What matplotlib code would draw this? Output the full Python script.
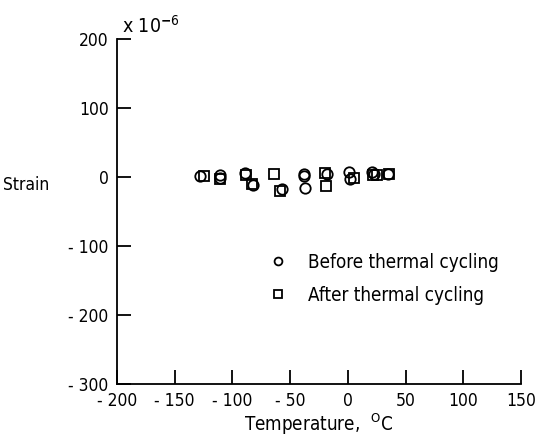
import matplotlib
matplotlib.use("Agg")
import matplotlib.pyplot as plt
from matplotlib import font_manager

# Condensed sans face for all text, with a fallback
names = {f.name for f in font_manager.fontManager.ttflist}
face = "Liberation Sans Narrow" if "Liberation Sans Narrow" in names else "DejaVu Sans"
plt.rcParams["font.family"] = [face, "DejaVu Sans"]
plt.rcParams["font.stretch"] = "condensed"
plt.rcParams["mathtext.fontset"] = "custom"
plt.rcParams["mathtext.rm"] = face

# Strain (x 10^-6) versus temperature (deg C)
before_temp = [-128, -111, -111, -89, -82, -57, -38, -38, -37, -18, 1, 2, 21, 23, 35]
before_strain = [1, 3, -2, 6, -12, -18, 5, 1, -16, 5, 7, -3, 7, 5, 5]
after_temp = [-125, -111, -88, -83, -64, -59, -20, -19, 5, 22, 25, 36]
after_strain = [1, -3, 3, -10, 4, -20, 6, -13, -2, 3, 3, 4]

x_ticks = [-200, -150, -100, -50, 0, 50, 100, 150]
x_labels = ["- 200", "- 150", "- 100", "- 50", "0", "50", "100", "150"]
y_ticks = [200, 100, 0, -100, -200, -300]
y_labels = ["200", "100", "0", "- 100", "- 200", "- 300"]

fig = plt.figure(figsize=(5.35, 4.37), dpi=100)
ax = fig.add_axes([0.2187, 0.1213, 0.7551, 0.7895])

ax.plot(before_temp, before_strain, linestyle="none", marker="o", ms=7.5,
        mfc="none", mec="black", mew=1.3, label="Before thermal cycling")
ax.plot(after_temp, after_strain, linestyle="none", marker="s", ms=7,
        mfc="none", mec="black", mew=1.3, label="After thermal cycling")

ax.set_xlim(-200, 150)
ax.set_ylim(-300, 200)
ax.set_xticks(x_ticks)
ax.set_xticklabels(x_labels)
ax.set_yticks(y_ticks)
ax.set_yticklabels(y_labels)

for side in ("top", "right"):
    ax.spines[side].set_visible(False)
for side in ("left", "bottom"):
    ax.spines[side].set_linewidth(1.3)

ax.tick_params(direction="in", length=10, width=1.3, labelsize=12.5, pad=6)

ax.set_xlabel(r"Temperature,  $^{\mathrm{O}}$C", fontsize=13.5, labelpad=1)
fig.text(0.006, 0.577, "Strain", fontsize=12.5, va="center", ha="left")
ax.text(0.012, 1.005, r"x 10$^{\mathbf{-}6}$", transform=ax.transAxes, fontsize=14,
        va="bottom", ha="left")

ax.legend(loc="lower left", bbox_to_anchor=(0.33, 0.18), frameon=False,
          fontsize=13.5, markerscale=0.75, handletextpad=1.0, labelspacing=0.75,
          handlelength=1.2)

fig.savefig("out.png", dpi=100)
